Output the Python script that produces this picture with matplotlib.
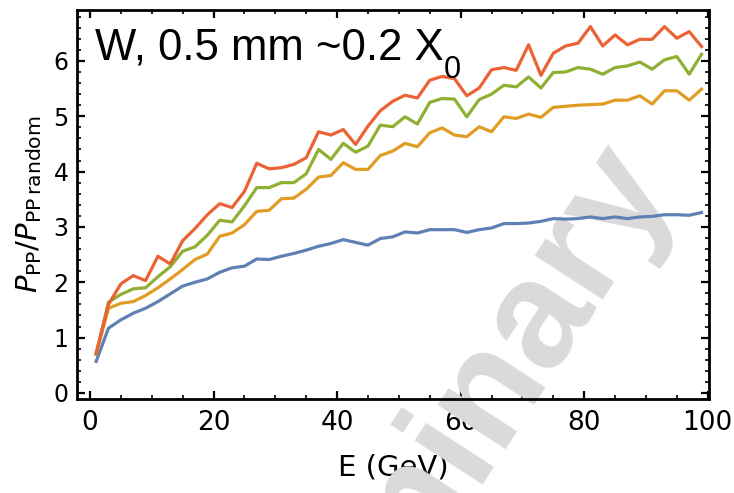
import matplotlib.pyplot as plt
from matplotlib.ticker import MultipleLocator

# beam energy (GeV), one point every 2 GeV
energy = [1, 3, 5, 7, 9, 11, 13, 15, 17, 19, 21, 23, 25, 27, 29, 31, 33, 35, 37, 39,
          41, 43, 45, 47, 49, 51, 53, 55, 57, 59, 61, 63, 65, 67, 69, 71, 73, 75, 77, 79,
          81, 83, 85, 87, 89, 91, 93, 95, 97, 99]

blue = [0.57, 1.17, 1.32, 1.44, 1.53, 1.65, 1.79, 1.93, 2.00, 2.06, 2.18, 2.26, 2.29,
        2.42, 2.41, 2.47, 2.52, 2.58, 2.65, 2.70, 2.77, 2.72, 2.67, 2.79, 2.82, 2.91,
        2.89, 2.95, 2.95, 2.95, 2.90, 2.95, 2.98, 3.06, 3.06, 3.07, 3.10, 3.15, 3.14,
        3.15, 3.18, 3.15, 3.18, 3.15, 3.18, 3.19, 3.22, 3.22, 3.21, 3.26]
orange = [0.70, 1.53, 1.62, 1.65, 1.76, 1.90, 2.06, 2.23, 2.41, 2.51, 2.83, 2.89, 3.04,
          3.28, 3.30, 3.51, 3.52, 3.68, 3.90, 3.93, 4.16, 4.04, 4.04, 4.29, 4.37, 4.51,
          4.45, 4.70, 4.79, 4.66, 4.63, 4.81, 4.72, 4.99, 4.96, 5.04, 4.98, 5.16, 5.18,
          5.20, 5.21, 5.22, 5.29, 5.29, 5.37, 5.22, 5.46, 5.46, 5.29, 5.49]
green = [0.70, 1.64, 1.78, 1.88, 1.90, 2.10, 2.28, 2.56, 2.64, 2.85, 3.12, 3.09, 3.38,
         3.71, 3.71, 3.80, 3.80, 3.96, 4.40, 4.22, 4.51, 4.35, 4.46, 4.84, 4.81, 4.99,
         4.86, 5.25, 5.32, 5.31, 4.99, 5.30, 5.40, 5.56, 5.53, 5.71, 5.51, 5.79, 5.80,
         5.88, 5.85, 5.76, 5.88, 5.91, 5.98, 5.85, 6.02, 6.08, 5.76, 6.12]
red = [0.72, 1.60, 1.97, 2.12, 2.03, 2.47, 2.33, 2.75, 2.97, 3.22, 3.42, 3.35, 3.64,
       4.15, 4.05, 4.07, 4.13, 4.25, 4.72, 4.66, 4.76, 4.49, 4.82, 5.10, 5.27, 5.38,
       5.33, 5.65, 5.72, 5.68, 5.37, 5.51, 5.84, 5.88, 5.83, 6.29, 5.74, 6.14, 6.27,
       6.32, 6.62, 6.27, 6.47, 6.29, 6.39, 6.39, 6.62, 6.41, 6.53, 6.26]

series = [blue, orange, green, red]
colors = ['#5E81B5', '#E19C24', '#8FB032', '#EB6235']

fig = plt.figure(figsize=(7.34, 4.93), dpi=100)
ax = fig.add_axes([0.1049, 0.1907, 0.861, 0.789])

for vals, c in zip(series, colors):
    ax.plot(energy, vals, color=c, lw=2.3, zorder=2)

ax.set_xlim(-2.1, 100.2)
ax.set_ylim(-0.11, 6.92)
ax.xaxis.set_major_locator(MultipleLocator(20))
ax.xaxis.set_minor_locator(MultipleLocator(5))
ax.yaxis.set_major_locator(MultipleLocator(1))
ax.yaxis.set_minor_locator(MultipleLocator(0.2))

# mathematica style frame: ticks inside on every side
ax.tick_params(which='both', direction='in', top=True, right=True)
ax.tick_params(which='major', length=6, width=1.6)
ax.tick_params(which='minor', length=3, width=1.2)
ax.tick_params(axis='x', labelsize=19, pad=8)
ax.tick_params(axis='y', labelsize=17, pad=6)
for s in ax.spines.values():
    s.set_linewidth(2)

ax.set_ylabel(r'$P_{\mathrm{PP}}/P_{\mathrm{PP\,random}}$', fontsize=21)
ax.yaxis.set_label_coords(-0.052, 0.5)
ax.set_xlabel('E (GeV)', fontsize=21)
ax.xaxis.set_label_coords(0.5, -0.14)

title = ax.text(0.028, 0.874, 'W, 0.5 mm ~0.2 X', transform=ax.transAxes,
                fontsize=31.5, family='Liberation Sans', ha='left', va='baseline')
ax.annotate('0', xy=(1, 0), xycoords=title, xytext=(0, -7), textcoords='offset points',
            fontsize=22, family=['Liberation Sans Narrow', 'Liberation Sans'],
            ha='left', va='baseline')

# watermark, under the curves but over the axis labels
ax.text(0.9155, 0.641, 'Preliminary', transform=fig.transFigure, rotation=57,
        rotation_mode='anchor', ha='right', va='baseline', fontsize=110,
        fontweight='bold', family='Liberation Sans', color='#dadada',
        zorder=1.8, clip_on=False)

fig.savefig('out.png', dpi=100)
